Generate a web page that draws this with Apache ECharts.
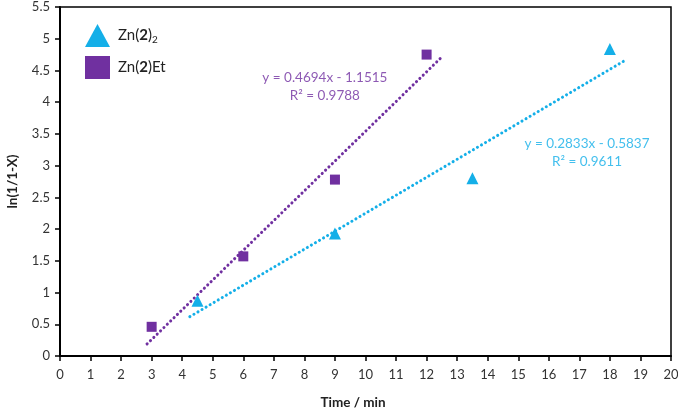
<!DOCTYPE html>
<html><head><meta charset="utf-8">
<script src="https://cdn.jsdelivr.net/npm/echarts@6/dist/echarts.min.js"></script>
<style>html,body{margin:0;padding:0;background:#fff}#c{width:678px;height:410px}</style>
</head><body><div id="c"></div>
<script>
const triData = [[4.5, 0.87], [9, 1.93], [13.5, 2.8], [18, 4.84]];
const sqData = [[3, 0.46], [6, 1.57], [9, 2.78], [12, 4.75]];
const triTrend = [[4.25, 0.62], [18.5, 4.66]];
const sqTrend = [[2.85, 0.19], [12.45, 4.69]];
const sqEq = ['y = 0.4694x - 1.1515', 'R² = 0.9788'];
const triEq = ['y = 0.2833x - 0.5837', 'R² = 0.9611'];
const sqEqPos = [[8.67, 4.39], [8.67, 4.11]];
const triEqPos = [[17.25, 3.34], [17.25, 3.07]];
const BLUE = '#14AFE8', PURPLE = '#7030A0';
const FONT = 'Lato';
const chart = echarts.init(document.getElementById('c'));
function labelSeries(pos, txt, color) {
  return {
    type: 'scatter', symbolSize: 0, silent: true, z: 5,
    data: pos.map((p, i) => ({ value: p, label: { formatter: txt[i] } })),
    label: { show: true, position: 'inside', color: color, fontFamily: FONT, fontSize: 13.5 }
  };
}
chart.setOption({
  animation: false,
  textStyle: { fontFamily: FONT },
  grid: { left: 60, right: 7, top: 7, bottom: 54, show: true, borderColor: '#000', borderWidth: 1.5,
          containLabel: false, outerBoundsMode: 'none' },
  legend: {
    orient: 'vertical', left: 80, top: 19, itemGap: 9, itemWidth: 25, itemHeight: 23,
    data: [{ name: 'Zn(2)2', icon: 'triangle' }, { name: 'Zn(2)Et', icon: 'rect' }],
    formatter: function (n) {
      return n === 'Zn(2)2' ? '{a|Zn(}{b|2}{a|)}{s|2}' : '{a|Zn(}{b|2}{a|)Et}';
    },
    textStyle: {
      padding: [0, 0, 0, 3],
      rich: {
        a: { fontSize: 15, color: '#222', fontFamily: FONT },
        b: { fontSize: 15, color: '#222', fontWeight: 'bold', fontFamily: FONT },
        s: { fontSize: 10, color: '#222', fontFamily: FONT, verticalAlign: 'bottom', padding: [9, 0, 0, 0] }
      }
    }
  },
  xAxis: {
    type: 'value', min: 0, max: 20, interval: 1,
    name: 'Time / min', nameLocation: 'middle', nameGap: 40,
    nameTextStyle: { fontWeight: 'bold', fontSize: 13.5, color: '#222', padding: [0, 25, 0, 0] },
    axisLine: { show: true, onZero: false, lineStyle: { color: '#000', width: 2 } },
    axisTick: { show: true, inside: false, length: 5, lineStyle: { color: '#000', width: 1.5 } },
    axisLabel: { color: '#333', fontSize: 13, margin: 12 },
    splitLine: { show: false }
  },
  yAxis: {
    type: 'value', min: 0, max: 5.5, interval: 0.5,
    name: 'ln(1/1-X)', nameLocation: 'middle', nameGap: 40, nameRotate: 90,
    nameTextStyle: { fontWeight: 'bold', fontSize: 13.5, color: '#222' },
    axisLine: { show: true, onZero: false, lineStyle: { color: '#000', width: 2 } },
    axisTick: { show: true, inside: false, length: 5, lineStyle: { color: '#000', width: 1.5 } },
    axisLabel: { color: '#333', fontSize: 13, margin: 10 },
    splitLine: { show: false }
  },
  series: [
    { name: 'Zn(2)2', type: 'scatter', symbol: 'triangle', symbolSize: 12, itemStyle: { color: BLUE, opacity: 1 }, data: triData, z: 4 },
    { name: 'Zn(2)Et', type: 'scatter', symbol: 'rect', symbolSize: 10, itemStyle: { color: PURPLE, opacity: 1 }, data: sqData, z: 4 },
    { type: 'line', showSymbol: false, symbol: 'none', data: triTrend, silent: true,
      lineStyle: { color: BLUE, width: 3, type: [0.1, 4.6], cap: 'round' }, z: 3 },
    { type: 'line', showSymbol: false, symbol: 'none', data: sqTrend, silent: true,
      lineStyle: { color: PURPLE, width: 3, type: [0.1, 4.6], cap: 'round' }, z: 3 },
    labelSeries(sqEqPos, sqEq, PURPLE),
    labelSeries(triEqPos, triEq, BLUE)
  ]
});
</script></body></html>
